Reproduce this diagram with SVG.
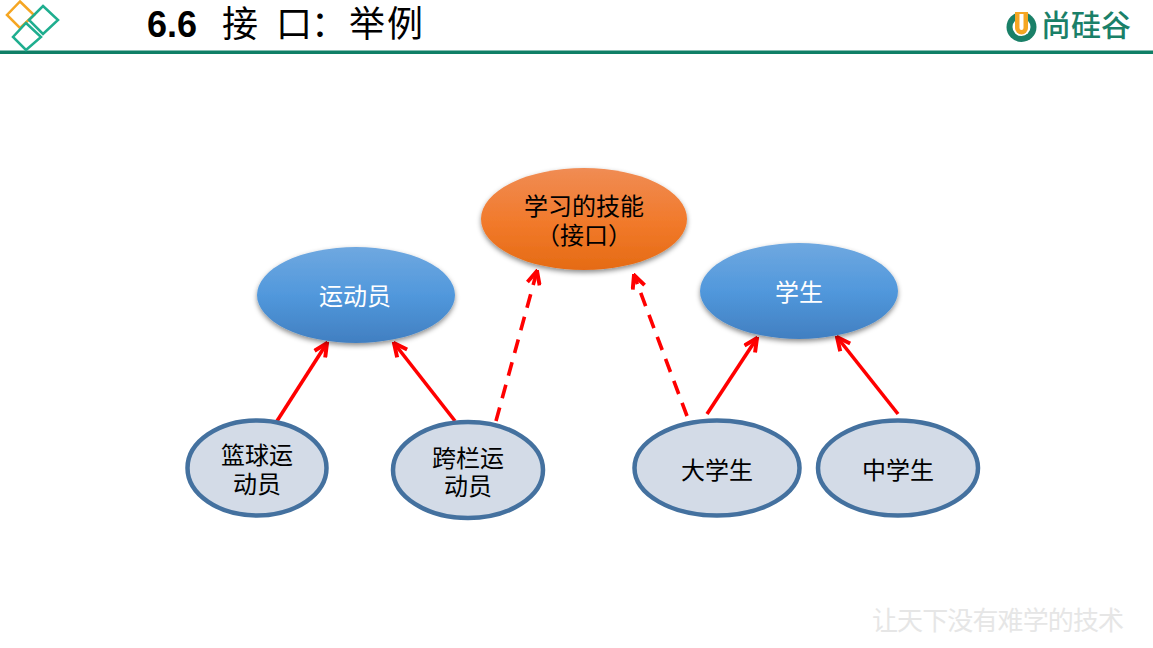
<svg xmlns="http://www.w3.org/2000/svg" width="1153" height="648" viewBox="0 0 1153 648">
<style>
.lbl{font-family:"Noto Sans CJK SC",sans-serif;font-size:24px;text-anchor:middle;fill:#000}
.wl{fill:#fff}
.sub{fill:#d3dbe7;stroke:#44719f;stroke-width:4.5}
.arr{fill:none;stroke:#ff0000;stroke-width:3.6;marker-end:url(#ah)}
.dash{stroke-dasharray:14 9.500}
.dia{fill:none;stroke-width:2.500}
</style>
<defs>
<marker id="ah" viewBox="0 0 12 12" refX="11" refY="6" markerWidth="4.4" markerHeight="4.4" orient="auto" markerUnits="strokeWidth"><path d="M1 1.200 L11 6 L1 10.800" fill="none" stroke="#ff0000" stroke-width="3"/></marker>
<linearGradient id="blue" x1="0" y1="0" x2="0" y2="1"><stop offset="0" stop-color="#6fa8e0"/><stop offset="0.5" stop-color="#5198dc"/><stop offset="1" stop-color="#417fc1"/></linearGradient>
<linearGradient id="org" x1="0" y1="0" x2="0" y2="1"><stop offset="0" stop-color="#f08c54"/><stop offset="0.55" stop-color="#f1792a"/><stop offset="1" stop-color="#e56b14"/></linearGradient>
<filter id="sh" x="-10%" y="-10%" width="120%" height="130%"><feDropShadow dx="0" dy="2.500" stdDeviation="2.500" flood-color="#000" flood-opacity="0.45"/></filter>
</defs>
<g id="header">
<rect x="0" y="50.500" width="1153" height="3.500" fill="#0f7f66"/>
<path class="dia" d="M20 1.500 L34 15 L20 28 L7 15 Z" stroke="#f5a623"/>
<path class="dia" d="M43 6 L58 20 L43 34 L29 20 Z" stroke="#1fae8f"/>
<path class="dia" d="M26 23 L41 37 L26 50 L13 37 Z" stroke="#1fae8f"/>
<text x="147" y="37" font-family="Liberation Sans,sans-serif" font-weight="bold" font-size="36" fill="#000">6.6</text>
<text x="222 276 311 349 387" y="37" font-family="Noto Sans CJK SC,sans-serif" font-size="36" fill="#000">接口：举例</text>
</g>
<g id="logo">
<circle cx="1021.500" cy="27" r="15" fill="#1a8068"/>
<circle cx="1021.500" cy="27" r="9" fill="#fff"/>
<path d="M1015 12 h13 v16 a6.500 6.500 0 0 1 -13 0 Z" fill="#f5a623"/>
<path d="M1019.500 14 h4 v14 a2 2 0 0 1 -4 0 Z" fill="#fff"/>
<text x="1041" y="36" font-family="Noto Sans CJK SC,sans-serif" font-weight="500" font-size="30" fill="#1a8068" textLength="90" lengthAdjust="spacingAndGlyphs">尚硅谷</text>
</g>
<g id="connectors">
<path class="arr" d="M277 421 L327 343"/>
<path class="arr" d="M455 421 L394 343"/>
<path class="arr dash" d="M496 421 L537 271"/>
<path class="arr dash" d="M687 416 L634 275"/>
<path class="arr" d="M707 414 L757 338"/>
<path class="arr" d="M898 414 L837 337"/>
</g>
<g id="interface"><ellipse cx="584" cy="219" rx="103" ry="51" fill="url(#org)" filter="url(#sh)"/>
<text class="lbl" x="584" y="215">学习的技能<tspan x="584" y="244">（接口）</tspan></text></g>
<g id="athlete"><ellipse cx="356" cy="295" rx="99" ry="48" fill="url(#blue)" filter="url(#sh)"/><text class="lbl wl" x="355" y="305">运动员</text></g>
<g id="student"><ellipse cx="799" cy="291" rx="99" ry="48" fill="url(#blue)" filter="url(#sh)"/><text class="lbl wl" x="799" y="301">学生</text></g>
<g id="basketball"><ellipse class="sub" cx="257" cy="468" rx="69.500" ry="47.500"/><text class="lbl" x="257" y="464">篮球运<tspan x="257" y="493">动员</tspan></text></g>
<g id="hurdler"><ellipse class="sub" cx="468" cy="470" rx="75" ry="48"/><text class="lbl" x="468" y="467">跨栏运<tspan x="468" y="495">动员</tspan></text></g>
<g id="undergrad"><ellipse class="sub" cx="717" cy="468" rx="82.500" ry="47.500"/><text class="lbl" x="717" y="479">大学生</text></g>
<g id="middle"><ellipse class="sub" cx="898" cy="468" rx="80" ry="47.500"/><text class="lbl" x="898" y="479">中学生</text></g>
<g id="watermark"><text x="872" y="630" font-family="Noto Sans CJK SC,sans-serif" font-size="26" fill="#e6e6e6" textLength="252">让天下没有难学的技术</text></g>
</svg>
